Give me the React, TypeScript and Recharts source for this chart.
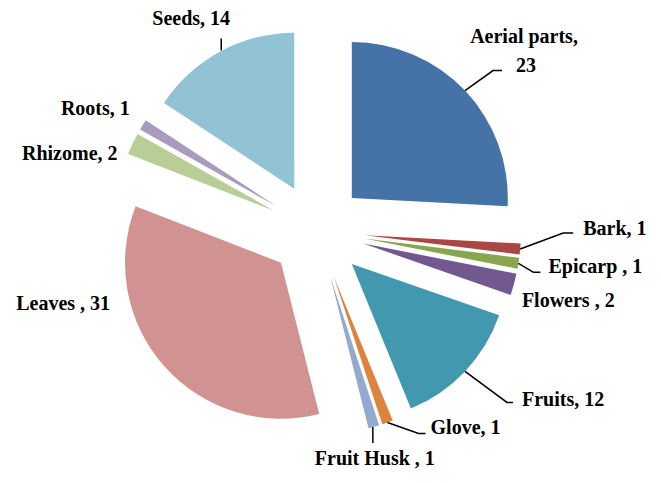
import React from 'react';
import { PieChart, Pie, Cell, Sector } from 'recharts';

const parts = ['Aerial parts', 'Bark', 'Epicarp ', 'Flowers ', 'Fruits', 'Glove', 'Fruit Husk ', 'Leaves ', 'Rhizome', 'Roots', 'Seeds'];
const counts = [23, 1, 1, 2, 12, 1, 1, 31, 2, 1, 14];
const colors = ['#4572A7', '#AA4643', '#89A54E', '#71588F', '#4198AF', '#DB843D', '#93A9CF', '#D19392', '#B9CD96', '#A99BBD', '#92C3D4'];

const data = parts.map((name, i) => ({ name, value: counts[i] }));

const RAD = Math.PI / 180;
const EXPLODE = 48;

// label placement relative to the outer edge point of each slice
type LabelPos = { dx: number; dy: number; anchor: 'start' | 'middle' | 'end'; leader?: number[][]; twoLine?: boolean };
const labelPos: Record<string, LabelPos> = {
  'Aerial parts': { dx: 59, dy: -48, anchor: 'middle', twoLine: true, leader: [[0, 0], [28, -20], [37, -20]] },
  'Bark': { dx: 63, dy: -14, anchor: 'start', leader: [[0, 0], [43, -16], [53, -16]] },
  'Epicarp ': { dx: 30, dy: 10, anchor: 'start', leader: [[0, 0], [15, 9], [22, 9]] },
  'Flowers ': { dx: 8, dy: 23, anchor: 'start' },
  'Fruits': { dx: 57, dy: 35, anchor: 'start', leader: [[0, 0], [42, 31], [48, 31]] },
  'Glove': { dx: 43, dy: 12, anchor: 'start', leader: [[0, 0], [31, 11], [38, 11]] },
  'Fruit Husk ': { dx: 1, dy: 38, anchor: 'middle', leader: [[-1, 0], [-1, 16]] },
  'Leaves ': { dx: -54, dy: -56, anchor: 'end' },
  'Rhizome': { dx: -15, dy: 16, anchor: 'end' },
  'Roots': { dx: -13, dy: -10, anchor: 'end' },
  'Seeds': { dx: -29, dy: -26, anchor: 'middle', leader: [[1, -1], [1, -13]] },
};

const ExplodedSector = (props: any) => {
  const { cx, cy, midAngle } = props;
  const ox = EXPLODE * Math.cos(midAngle * RAD);
  const oy = -EXPLODE * Math.sin(midAngle * RAD);
  return <Sector {...props} cx={cx + ox} cy={cy + oy} />;
};

const renderLabel = (props: any) => {
  const { cx, cy, midAngle, outerRadius, name, value } = props;
  const dist = EXPLODE + outerRadius;
  const ex = cx + dist * Math.cos(midAngle * RAD);
  const ey = cy - dist * Math.sin(midAngle * RAD);
  const pos = labelPos[name];
  if (!pos) return null;
  const textStyle = { fontFamily: '"Liberation Serif", serif', fontWeight: 700, fontSize: 20, fill: '#000' };
  return (
    <g>
      {pos.leader && (
        <polyline
          points={pos.leader.map(([x, y]) => `${ex + x},${ey + y}`).join(' ')}
          fill="none"
          stroke="#000"
          strokeWidth={1.5}
        />
      )}
      {pos.twoLine ? (
        <text x={ex + pos.dx} y={ey + pos.dy} textAnchor={pos.anchor} style={textStyle}>
          <tspan x={ex + pos.dx}>{name},</tspan>
          <tspan x={ex + pos.dx + 2} dy={29}>{value}</tspan>
        </text>
      ) : (
        <text x={ex + pos.dx} y={ey + pos.dy} textAnchor={pos.anchor} style={textStyle}>
          {`${name}, ${value}`}
        </text>
      )}
    </g>
  );
};

export default function App() {
  return (
    <div style={{ position: 'absolute', left: 0, top: 0, width: 661, height: 483, background: '#fff' }}>
      <PieChart width={661} height={483} margin={{ top: 0, right: 0, bottom: 0, left: 0 }}>
        <Pie
          data={data}
          dataKey="value"
          nameKey="name"
          cx={317}
          cy={231}
          outerRadius={156}
          startAngle={90}
          endAngle={-270}
          stroke="none"
          shape={ExplodedSector}
          label={renderLabel}
          labelLine={false}
          isAnimationActive={false}
        >
          {data.map((d, i) => (
            <Cell key={d.name} fill={colors[i]} />
          ))}
        </Pie>
      </PieChart>
    </div>
  );
}
